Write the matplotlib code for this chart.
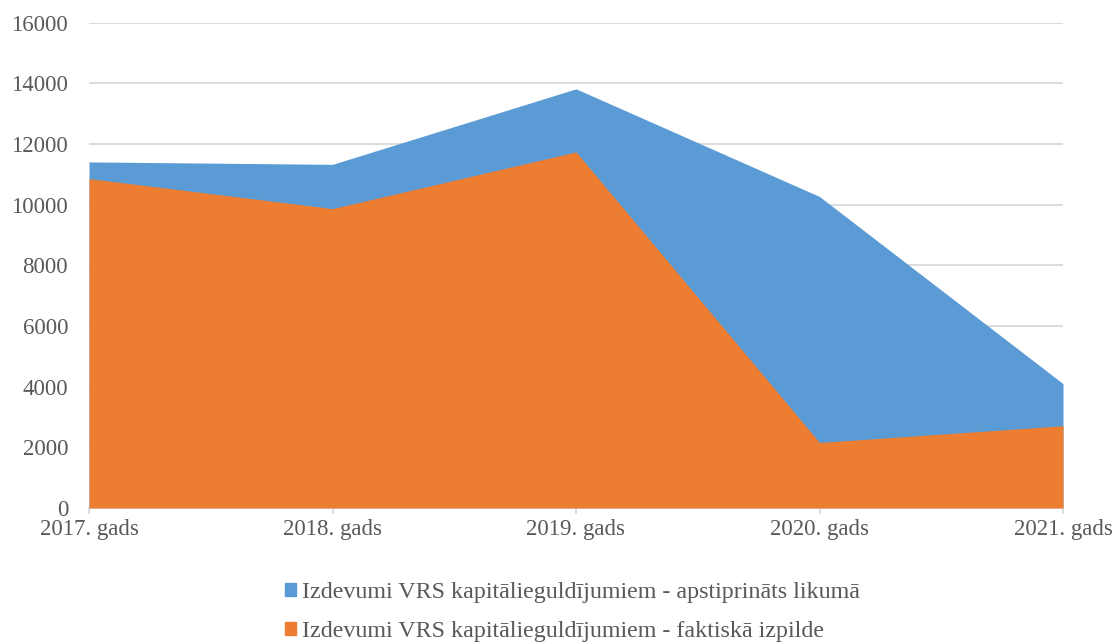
import matplotlib
matplotlib.use('Agg')
import matplotlib.pyplot as plt
from matplotlib.patches import Patch

# data
years = ['2017. gads', '2018. gads', '2019. gads', '2020. gads', '2021. gads']
approved = [11410, 11330, 13820, 10270, 4100]   # apstiprināts likumā
actual = [10860, 9870, 11740, 2160, 2710]       # faktiskā izpilde

label_approved = 'Izdevumi VRS kapitālieguldījumiem - apstiprināts likumā'
label_actual = 'Izdevumi VRS kapitālieguldījumiem - faktiskā izpilde'

blue = '#5B9BD5'
orange = '#ED7D31'
grey_text = '#595959'
grid_col = '#D9D9D9'

plt.rcParams['font.family'] = ['Liberation Serif', 'DejaVu Serif']
plt.rcParams['font.size'] = 16.5

fig = plt.figure(figsize=(11.16, 6.44), dpi=100)
ax = fig.add_axes([89 / 1116, 1 - 508 / 644, (1063 - 89) / 1116, (508 - 22.7) / 644])

x = range(len(years))
ax.fill_between(x, approved, 0, color=blue, linewidth=0, zorder=2)
ax.fill_between(x, actual, 0, color=orange, linewidth=0, zorder=3)

ax.set_xlim(0, len(years) - 1)
ax.set_ylim(0, 16000)
ax.set_yticks(range(0, 16001, 2000))
ax.set_xticks(list(x))
ax.set_xticklabels(years)

ax.yaxis.grid(True, color=grid_col, linewidth=1.3, zorder=0)
ax.set_axisbelow(True)
for s in ['top', 'right', 'left']:
    ax.spines[s].set_visible(False)
ax.spines['bottom'].set_color(grid_col)
ax.spines['bottom'].set_linewidth(1.3)

ax.tick_params(axis='y', length=0, pad=15, colors=grey_text)
ax.tick_params(axis='x', length=4, width=1.3, color=grid_col, pad=4, labelcolor=grey_text)

handles = [Patch(color=blue, label=label_approved), Patch(color=orange, label=label_actual)]
leg = fig.legend(handles=handles, loc='center', bbox_to_anchor=(0.513, 1 - 612 / 644),
                 ncol=1, frameon=False, handlelength=0.46, handleheight=0.46,
                 handletextpad=0.25, labelspacing=0.75, labelcolor=grey_text,
                 fontsize=17.3)

fig.savefig('out.png', dpi=100)
